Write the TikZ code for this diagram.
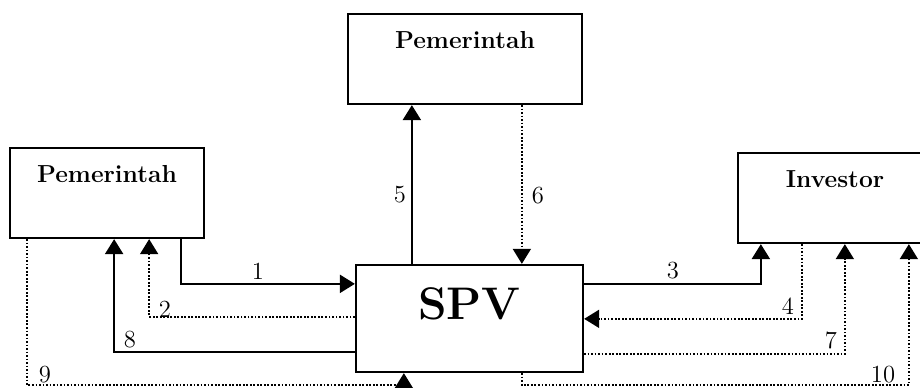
\documentclass[tikz,border=0pt]{standalone}
\usetikzlibrary{positioning,arrows.meta}
\tikzset{
  >={Triangle[width=3.6mm,length=3mm]},
  box/.style={draw, line width=1.3pt, minimum width=38.8mm, inner ysep=0pt,
              text height=6.9mm, text depth=11.1mm,
              font=\fontsize{14}{16}\selectfont\bfseries},
  flow/.style={->, line width=1.3pt},
  dotflow/.style={->, line width=1pt, densely dotted},
  num/.style={inner sep=0pt, font=\fontsize{14}{16}\selectfont},
}

\begin{document}
\begin{tikzpicture}
    \useasboundingbox (0,0) rectangle (18.4,7.74);
    % boxes
    \node[box, minimum width=46.8mm] (pemA) at (9.30,6.56) {Pemerintah};
    \node[box] (pemB) at (2.14,3.88) {Pemerintah};
    \node[box] (inv) at (16.70,3.78) {Investor};
    \node[box, minimum width=45.4mm, text height=11mm, text depth=10.4mm,
          font=\fontsize{26}{30}\selectfont\bfseries] (spv) at (9.39,1.37) {SPV};
    \coordinate (s5) at ([xshift=11.4mm]spv.north west);
    \coordinate (s6) at ([xshift=33.4mm]spv.north west);
    % left side
    \draw[flow] ([xshift=-4.8mm]pemB.south east) |- ([yshift=-4mm]spv.north west);
    \draw[dotflow] ([yshift=-10.6mm]spv.north west) -| ([xshift=-11.2mm]pemB.south east);
    \draw[flow] ([yshift=-17.6mm]spv.north west) -| ([xshift=-18.2mm]pemB.south east);
    \draw[dotflow] ([xshift=3.6mm]pemB.south west)
      |- ([xshift=9.8mm,yshift=-2.4mm]spv.south west) -- ([xshift=9.8mm]spv.south west);
    % top
    \draw[flow] (s5) -- (s5 |- pemA.south);
    \draw[dotflow] (s6 |- pemA.south) -- (s6);
    % right side
    \draw[flow] ([yshift=-4mm]spv.north east) -| ([xshift=4.8mm]inv.south west);
    \draw[dotflow] ([xshift=13mm]inv.south west) |- ([yshift=-11mm]spv.north east);
    \draw[dotflow] ([yshift=-18mm]spv.north east) -| ([xshift=21.6mm]inv.south west);
    \draw[dotflow] ([xshift=33.4mm]spv.south west) -- ++(0,-2.4mm)
      -| ([xshift=34.4mm]inv.south west);
    % numbers
    \node[num] (n1) at (5.16,2.32) {1};
    \node[num] (n2) at (3.30,1.56) {2};
    \node[num] (n3) at (13.46,2.32) {3};
    \node[num] (n4) at (15.76,1.62) {4};
    \node[num] (n5) at (8.00,3.84) {5};
    \node[num] (n6) at (10.76,3.82) {6};
    \node[num] (n7) at (16.62,0.94) {7};
    \node[num] (n8) at (2.60,0.94) {8};
    \node[num] (n9) at (0.90,0.24) {9};
    \node[num] (n10) at (17.66,0.24) {10};
\end{tikzpicture}
\end{document}
